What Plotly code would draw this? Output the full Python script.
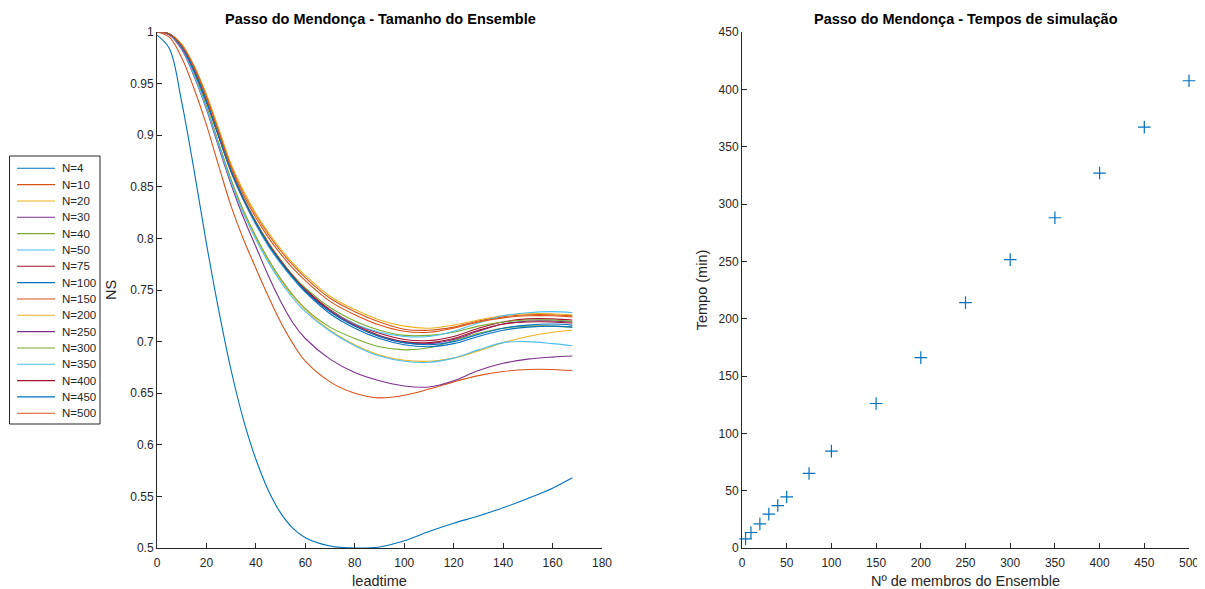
import plotly.graph_objects as go

# ---------------- data ----------------
leadtime = [0, 5, 10, 15, 20, 25, 30, 35, 40, 45, 50, 55, 60, 70, 80, 90, 100, 110, 120, 130, 140, 150, 160, 168]

ensemble_labels = ["N=4", "N=10", "N=20", "N=30", "N=40", "N=50", "N=75", "N=100",
                   "N=150", "N=200", "N=250", "N=300", "N=350", "N=400", "N=450", "N=500"]

ns_n4 = [0.997, 0.984, 0.932, 0.866, 0.795, 0.730, 0.672, 0.624, 0.586, 0.556, 0.534, 0.519, 0.510, 0.502, 0.500, 0.501, 0.507, 0.516, 0.524, 0.531, 0.539, 0.548, 0.558, 0.568]
ns_n10 = [1.0, 0.995, 0.975, 0.945, 0.910, 0.870, 0.831, 0.799, 0.771, 0.744, 0.719, 0.698, 0.681, 0.661, 0.650, 0.6455, 0.648, 0.654, 0.661, 0.667, 0.671, 0.673, 0.673, 0.672]
ns_n20 = [1.0, 0.998, 0.985, 0.960, 0.928, 0.892, 0.856, 0.826, 0.801, 0.779, 0.760, 0.744, 0.731, 0.711, 0.697, 0.687, 0.682, 0.681, 0.684, 0.691, 0.699, 0.705, 0.709, 0.711]
ns_n30 = [1.0, 0.997, 0.983, 0.957, 0.925, 0.888, 0.852, 0.820, 0.792, 0.764, 0.739, 0.718, 0.703, 0.683, 0.670, 0.662, 0.657, 0.656, 0.662, 0.672, 0.679, 0.683, 0.685, 0.686]
ns_n40 = [1.0, 0.998, 0.985, 0.960, 0.928, 0.892, 0.857, 0.827, 0.802, 0.780, 0.761, 0.745, 0.732, 0.714, 0.703, 0.695, 0.692, 0.694, 0.701, 0.708, 0.713, 0.715, 0.715, 0.714]
ns_n50 = [1.0, 0.998, 0.984, 0.958, 0.926, 0.890, 0.854, 0.824, 0.799, 0.777, 0.758, 0.742, 0.729, 0.710, 0.696, 0.686, 0.681, 0.680, 0.684, 0.692, 0.699, 0.700, 0.698, 0.696]
ns_n75 = [1.0, 0.998, 0.986, 0.964, 0.934, 0.900, 0.866, 0.839, 0.816, 0.796, 0.779, 0.764, 0.751, 0.731, 0.717, 0.708, 0.702, 0.701, 0.705, 0.713, 0.719, 0.722, 0.722, 0.721]
ns_n100 = [1.0, 0.998, 0.986, 0.963, 0.933, 0.899, 0.865, 0.838, 0.814, 0.793, 0.776, 0.761, 0.748, 0.727, 0.713, 0.703, 0.697, 0.695, 0.698, 0.705, 0.711, 0.714, 0.715, 0.714]
ns_n150 = [1.0, 0.998, 0.988, 0.967, 0.939, 0.905, 0.871, 0.845, 0.823, 0.804, 0.788, 0.774, 0.762, 0.742, 0.729, 0.719, 0.712, 0.711, 0.714, 0.720, 0.724, 0.726, 0.726, 0.725]
ns_n200 = [1.0, 0.998, 0.988, 0.967, 0.939, 0.906, 0.872, 0.846, 0.824, 0.806, 0.790, 0.776, 0.764, 0.744, 0.731, 0.721, 0.715, 0.713, 0.716, 0.721, 0.725, 0.727, 0.727, 0.726]
ns_n250 = [1.0, 0.998, 0.985, 0.962, 0.932, 0.898, 0.864, 0.837, 0.814, 0.794, 0.777, 0.762, 0.749, 0.729, 0.715, 0.705, 0.699, 0.698, 0.702, 0.710, 0.717, 0.720, 0.720, 0.719]
ns_n300 = [1.0, 0.998, 0.986, 0.964, 0.934, 0.900, 0.866, 0.839, 0.816, 0.796, 0.779, 0.764, 0.752, 0.733, 0.720, 0.711, 0.706, 0.706, 0.709, 0.715, 0.719, 0.721, 0.721, 0.720]
ns_n350 = [1.0, 0.998, 0.986, 0.963, 0.933, 0.899, 0.864, 0.837, 0.813, 0.793, 0.776, 0.761, 0.749, 0.730, 0.717, 0.709, 0.705, 0.705, 0.710, 0.718, 0.725, 0.728, 0.729, 0.728]
ns_n400 = [1.0, 0.998, 0.986, 0.963, 0.933, 0.899, 0.865, 0.838, 0.815, 0.795, 0.778, 0.763, 0.750, 0.730, 0.716, 0.706, 0.700, 0.699, 0.703, 0.711, 0.717, 0.719, 0.719, 0.718]
ns_n450 = [1.0, 0.998, 0.986, 0.963, 0.933, 0.899, 0.865, 0.838, 0.815, 0.794, 0.777, 0.762, 0.749, 0.729, 0.715, 0.705, 0.699, 0.697, 0.700, 0.707, 0.713, 0.716, 0.717, 0.716]
ns_n500 = [1.0, 0.998, 0.987, 0.966, 0.937, 0.903, 0.869, 0.842, 0.820, 0.801, 0.785, 0.771, 0.759, 0.739, 0.726, 0.716, 0.710, 0.709, 0.713, 0.719, 0.723, 0.725, 0.725, 0.724]

ns_series = [ns_n4, ns_n10, ns_n20, ns_n30, ns_n40, ns_n50, ns_n75, ns_n100,
             ns_n150, ns_n200, ns_n250, ns_n300, ns_n350, ns_n400, ns_n450, ns_n500]

ensemble_members = [4, 10, 20, 30, 40, 50, 75, 100, 150, 200, 250, 300, 350, 400, 450, 500]
sim_time_min = [8, 13.5, 21, 29.5, 37, 44.5, 65, 84.5, 126, 166, 214, 251.5, 288, 327, 367, 407.5]

ns_ticks = [0.5, 0.55, 0.6, 0.65, 0.7, 0.75, 0.8, 0.85, 0.9, 0.95, 1]
ns_ticktext = ["0.5", "0.55", "0.6", "0.65", "0.7", "0.75", "0.8", "0.85", "0.9", "0.95", "1"]
lead_ticks = [0, 20, 40, 60, 80, 100, 120, 140, 160, 180]
member_ticks = [0, 50, 100, 150, 200, 250, 300, 350, 400, 450, 500]
time_ticks = [0, 50, 100, 150, 200, 250, 300, 350, 400, 450]

# ---------------- style ----------------
matlab_colors = ["#0072BD", "#D95319", "#EDB120", "#7E2F8E", "#77AC30", "#4DBEEE", "#A2142F"]
PAGE_MARGIN = 8           # default <body> margin of the page
W, H = 1205 - PAGE_MARGIN, 589 - PAGE_MARGIN
AX = "#262626"
FONT = "Liberation Sans, Arial, Helvetica, sans-serif"


def px_x(p):
    return (p - PAGE_MARGIN) / W


def px_y(p):
    return (H - (p - PAGE_MARGIN)) / H


fig = go.Figure()
for i, (name, ys) in enumerate(zip(ensemble_labels, ns_series)):
    fig.add_trace(go.Scatter(
        x=leadtime, y=ys, mode="lines", name=name, showlegend=False,
        line=dict(color=matlab_colors[i % 7], width=1.1, shape="spline", smoothing=1.0),
        xaxis="x", yaxis="y",
    ))

fig.add_trace(go.Scatter(
    x=ensemble_members, y=sim_time_min, mode="markers", showlegend=False,
    marker=dict(symbol="cross-thin", size=9, line=dict(color="#0072BD", width=1.2)),
    cliponaxis=False, xaxis="x2", yaxis="y2",
))

axis_common = dict(
    showline=True, linecolor=AX, linewidth=1, mirror=False,
    ticks="inside", ticklen=5, tickwidth=1, tickcolor=AX,
    showgrid=False, zeroline=False,
    tickfont=dict(family=FONT, size=12, color=AX),
    automargin=False,
)
title_font = dict(family=FONT, size=14.5, color=AX)

# ----- legend box (MATLAB-style, drawn as layout shapes/annotations) -----
leg_left, leg_right, leg_top, leg_bottom = 9.5, 100, 156, 424
leg_first, leg_step = 168.3, 16.33
shapes = [dict(type="rect", xref="paper", yref="paper",
               x0=px_x(leg_left), x1=px_x(leg_right), y0=px_y(leg_bottom), y1=px_y(leg_top),
               line=dict(color=AX, width=1), fillcolor="white", layer="above")]
annotations = []
for i, name in enumerate(ensemble_labels):
    yy = leg_first + leg_step * i
    shapes.append(dict(type="line", xref="paper", yref="paper",
                       x0=px_x(17), x1=px_x(55), y0=px_y(yy), y1=px_y(yy),
                       line=dict(color=matlab_colors[i % 7], width=1.1), layer="above"))
    annotations.append(dict(text=name, x=px_x(59.5), y=px_y(yy), xref="paper", yref="paper",
                            showarrow=False, xanchor="left", yanchor="middle",
                            font=dict(family=FONT, size=11.5, color=AX)))

annotations += [
    dict(text="<b>Passo do Mendonça - Tamanho do Ensemble</b>", x=px_x(380), y=px_y(19),
         xref="paper", yref="paper", showarrow=False, xanchor="center", yanchor="middle",
         font=dict(family=FONT, size=14.5, color="black")),
    dict(text="<b>Passo do Mendonça - Tempos de simulação</b>", x=px_x(966), y=px_y(19),
         xref="paper", yref="paper", showarrow=False, xanchor="center", yanchor="middle",
         font=dict(family=FONT, size=14.5, color="black")),
]

fig.update_layout(
    width=W, height=H,
    margin=dict(l=0, r=0, t=0, b=0),
    paper_bgcolor="white", plot_bgcolor="white",
    font=dict(family=FONT, size=12, color=AX),
    showlegend=False,
    xaxis=dict(domain=[px_x(157), px_x(602)], range=[0, 180], tickvals=lead_ticks,
               ticklabelstandoff=4,
               title=dict(text="leadtime", font=title_font, standoff=8),
               anchor="y", **axis_common),
    yaxis=dict(domain=[px_y(548), px_y(32)], range=[0.5, 1], tickvals=ns_ticks, ticktext=ns_ticktext,
               title=dict(text="NS", font=title_font, standoff=10),
               anchor="x", **axis_common),
    xaxis2=dict(domain=[px_x(742), px_x(1189)], range=[0, 500], tickvals=member_ticks,
                ticklabelstandoff=4,
                title=dict(text="Nº de membros do Ensemble", font=title_font, standoff=8),
                anchor="y2", **axis_common),
    yaxis2=dict(domain=[px_y(548), px_y(32)], range=[0, 450], tickvals=time_ticks,
                title=dict(text="Tempo (min)", font=title_font, standoff=7),
                anchor="x2", **axis_common),
    shapes=shapes,
    annotations=annotations,
)

fig.write_html("out.html")
